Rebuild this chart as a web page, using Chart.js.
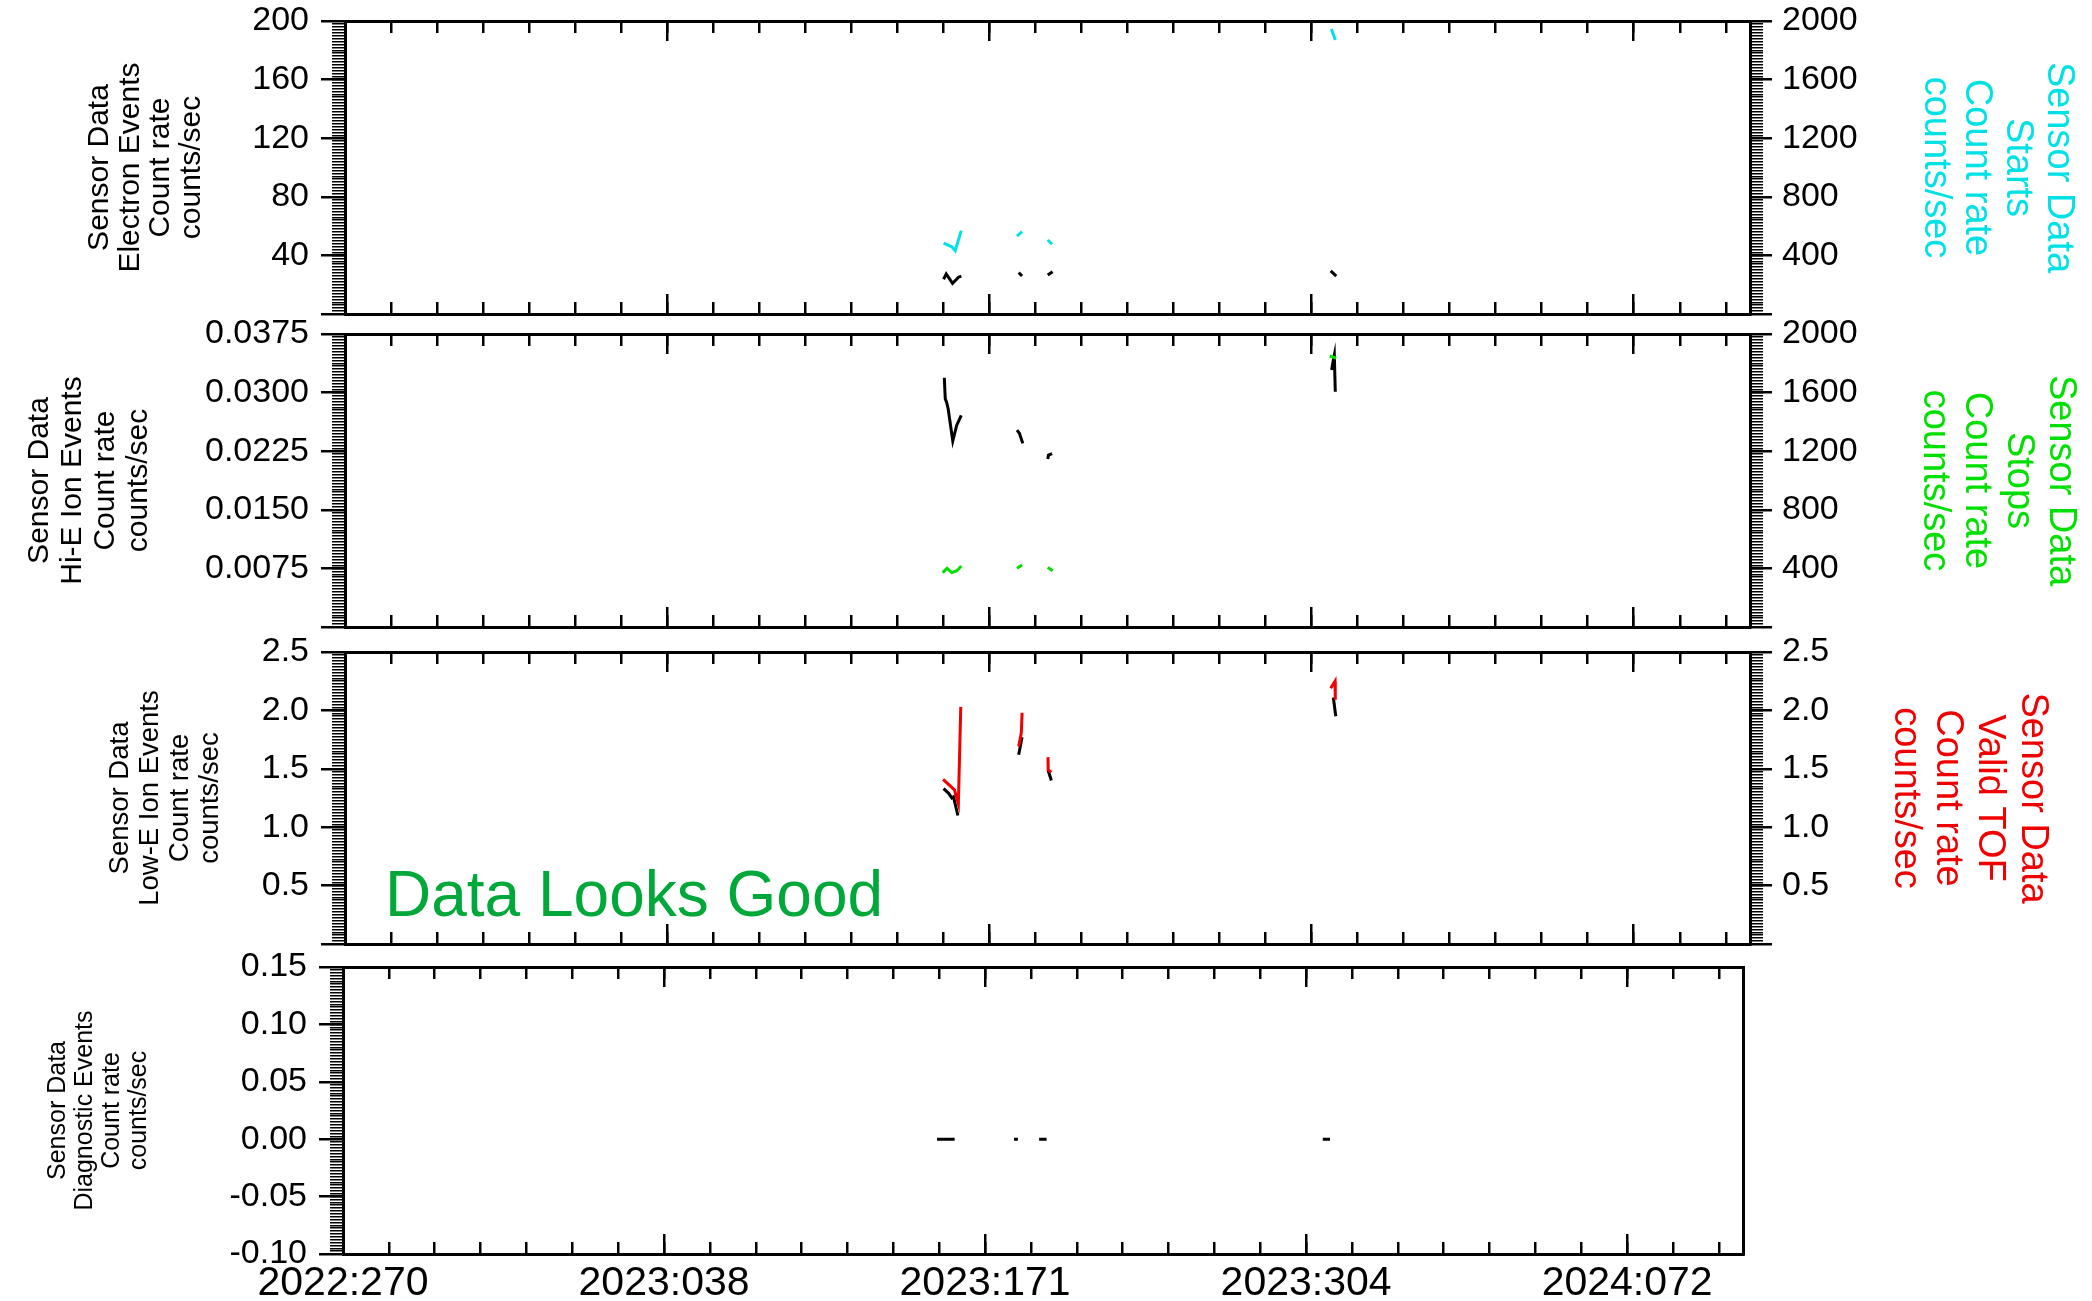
<!DOCTYPE html>
<html>
<head>
<meta charset="utf-8">
<script src="https://cdn.jsdelivr.net/npm/chart.js@4/dist/chart.umd.min.js"></script>
<style>
  html, body { margin: 0; padding: 0; background: #fff; }
  #wrap { position: relative; width: 2092px; height: 1301px; overflow: hidden; background: #fff; }
  #wrap canvas { position: absolute; left: 0; top: 0; }
  #note {
    position: absolute; left: 385px; top: 862px; margin: 0;
    font-family: "Liberation Sans", Arial, Helvetica, sans-serif;
    font-size: 64px; line-height: 64px; color: #00a83a; white-space: nowrap;
  }
</style>
</head>
<body>
<div id="wrap">
  <canvas id="p1" width="2092" height="1301"></canvas>
  <canvas id="p2" width="2092" height="1301"></canvas>
  <canvas id="p3" width="2092" height="1301"></canvas>
  <canvas id="p4" width="2092" height="1301"></canvas>
  <div id="note">Data Looks Good</div>
</div>
<script>
// ---- Time axis: days elapsed since 2022:270 ----
const dayLabels = ['2022:270', '2023:038', '2023:171', '2023:304', '2024:072'];
const dayMajor  = [0, 133, 266, 399, 532];
const dayMinorStep = 19;
const dayMax = 580;

const GAP = null;

// Electron events, counts/sec (panel 1, left axis)
const electronDay  = [247.1, 248.2, 250.8, 253.3, 254.4, GAP, 278.1, 279.5, GAP, 290.1, 292.1, GAP, 406.9, 409.2];
const electronRate = [23.7, 27.3, 20.9, 25.1, 25.9, GAP, 28.2, 25.9, GAP, 26.6, 28.9, GAP, 29.4, 25.9];

// Starts, counts/sec (panel 1, right axis)
const startsDay  = [247.1, 250.5, 251.9, 254.4, GAP, 277.4, 279.5, GAP, 290.1, 291.9, GAP, 407.2, 408.8];
const startsRate = [483, 459, 432, 569, GAP, 532, 562, GAP, 505, 476, GAP, 1945, 1870];

// Hi-E ion events, counts/sec (panel 2, left axis)
const hiEDay  = [247.4, 247.8, 248.4, 249.0, 250.9, 252.5, 254.4, GAP, 277.4, 278.4, 279.8, GAP, 290.1, 290.4, 291.9, GAP, 407.3, 408.0, 408.4, 408.8];
const hiERate = [0.0319, 0.0292, 0.0287, 0.0279, 0.0238, 0.0258, 0.0271, GAP, 0.0252, 0.0248, 0.0235, GAP, 0.0215, 0.0220, 0.0222, GAP, 0.0329, 0.0342, 0.0348, 0.0301];

// Stops, counts/sec (panel 2, right axis)
const stopsDay  = [246.7, 248.5, 250.5, 252.6, 254.4, GAP, 277.4, 279.5, GAP, 290.1, 292.1, GAP, 406.5, 409.2];
const stopsRate = [371, 401, 371, 384, 416, GAP, 401, 423, GAP, 407, 384, GAP, 1850, 1835];

// Low-E ion events, counts/sec (panel 3, left axis)
const lowEDay  = [247.1, 249.2, 250.5, 251.2, 253.0, GAP, 278.1, 279.5, GAP, 290.2, 291.6, GAP, 408.0, 409.0];
const lowERate = [1.33, 1.29, 1.25, 1.26, 1.10, GAP, 1.62, 1.77, GAP, 1.49, 1.40, GAP, 2.11, 1.95];

// Valid TOF, counts/sec (panel 3, right axis)
const tofDay  = [246.9, 251.6, 253.2, 254.2, GAP, 278.1, 279.2, 279.5, GAP, 290.2, 290.3, 291.6, GAP, 406.9, 408.7, 408.8];
const tofRate = [1.41, 1.32, 1.20, 2.03, GAP, 1.69, 1.81, 1.98, GAP, 1.60, 1.49, 1.47, GAP, 2.19, 2.25, 2.09];

// Diagnostic events, counts/sec (panel 4)
const diagDay  = [246.1, 253.4, GAP, 278.0, 279.6, GAP, 288.4, 291.5, GAP, 405.9, 408.9];
const diagRate = [0, 0, GAP, 0, 0, GAP, 0, 0, GAP, 0, 0];

// ---- Value-axis ticks and labels ----
const electronTicks  = [0, 40, 80, 120, 160, 200];
const electronLabels = ['', '40', '80', '120', '160', '200'];
const countTicks  = [0, 400, 800, 1200, 1600, 2000];
const countLabels = ['', '400', '800', '1200', '1600', '2000'];
const hiETicks  = [0, 0.0075, 0.015, 0.0225, 0.03, 0.0375];
const hiELabels = ['', '0.0075', '0.0150', '0.0225', '0.0300', '0.0375'];
const lowETicks  = [0, 0.5, 1.0, 1.5, 2.0, 2.5];
const lowELabels = ['', '0.5', '1.0', '1.5', '2.0', '2.5'];
const diagTicks  = [-0.10, -0.05, 0, 0.05, 0.10, 0.15];
const diagLabels = ['-0.10', '-0.05', '0.00', '0.05', '0.10', '0.15'];

const FONT = '"Liberation Sans", Arial, Helvetica, sans-serif';
const W = 2092, H = 1301;
const CYAN = '#00e1e6', GREEN = '#00e000', RED = '#f00000';

function points(days, vals) {
  return days.map(function (d, i) { return { x: d, y: vals[i] }; });
}
function steps(min, max, step) {
  const n = Math.round((max - min) / step);
  const out = [];
  for (let i = 0; i <= n; i++) out.push(+(min + i * step).toFixed(8));
  return out;
}
function tickSetter(values) {
  return function (scale) { scale.ticks = values.map(function (v) { return { value: v }; }); };
}
// fixed axis box sizes so the chart area lands exactly on the panel frame
function fixSize(size) {
  return function (scale) {
    if (scale.isHorizontal()) scale.height = size; else scale.width = size;
    scale.paddingLeft = 0; scale.paddingRight = 0; scale.paddingTop = 0; scale.paddingBottom = 0;
  };
}

function timeAxis(position, values, tickLength, labels, border, size) {
  return {
    type: 'linear', position: position, min: 0, max: dayMax, weight: labels ? 1 : 0,
    afterBuildTicks: tickSetter(values), afterFit: fixSize(size || 0),
    grid: { drawOnChartArea: false, drawTicks: true, tickLength: tickLength, tickWidth: 2.5, tickColor: '#000', color: '#000', lineWidth: 2.5 },
    border: { display: border, color: '#000', width: 3 },
    ticks: labels
      ? { display: true, autoSkip: false, maxRotation: 0, minRotation: 0, color: '#000', padding: 25,
          font: { family: FONT, size: 41, lineHeight: 1.2 }, callback: function (v, i) { return labels[i]; } }
      : { display: false, autoSkip: false }
  };
}

function valueAxis(o) {
  const ax = {
    type: 'linear', position: o.position, min: o.min, max: o.max, weight: o.size ? 1 : 0,
    afterBuildTicks: tickSetter(o.values), afterFit: fixSize(o.size || 0),
    grid: { drawOnChartArea: false, drawTicks: o.tickLength > 0, tickLength: o.tickLength || 0, tickWidth: o.tickWidth || 2.5,
            tickColor: '#000', color: '#000', lineWidth: o.tickWidth || 2.5 },
    border: { display: !!o.border, color: '#000', width: 3 },
    ticks: o.labels
      ? { display: true, autoSkip: false, color: '#000', padding: o.labelPad,
          font: { family: FONT, size: 34, lineHeight: 1.2 }, callback: function (v, i) { return o.labels[i]; } }
      : { display: false, autoSkip: false }
  };
  if (o.title) {
    ax.title = { display: true, text: o.title, color: o.titleColor || '#000',
                 font: { family: FONT, size: o.titleSize, lineHeight: o.titleLine / o.titleSize },
                 padding: { top: o.titlePad, bottom: 0 } };
  }
  return ax;
}

function line(data, color, axis, order) {
  return { data: data, yAxisID: axis, borderColor: color, backgroundColor: color, borderWidth: 3,
           pointRadius: 0, tension: 0, spanGaps: false, fill: false, order: order };
}

function makePanel(id, padding, datasets, scales) {
  new Chart(document.getElementById(id), {
    type: 'line',
    data: { datasets: datasets },
    options: {
      responsive: false, animation: false, events: [],
      layout: { padding: padding },
      plugins: { legend: { display: false }, tooltip: { enabled: false }, title: { display: false } },
      scales: scales
    }
  });
}

// left title spans from x = 0: first line centre = lh/2 + pad
function leftPad(x1, lh) { return x1 - lh / 2; }
// right title spans to x = W: first line centre = W - lh/2 - pad
function rightPad(x1, lh) { return W - lh / 2 - x1; }

const minorDays = steps(0, 570, dayMinorStep);

function timeScales(labelHeight) {
  return {
    x:   timeAxis('bottom', dayMajor, -20, labelHeight ? dayLabels : null, true, labelHeight),
    xm:  timeAxis('bottom', minorDays, -12, null, false),
    xt:  timeAxis('top', dayMajor, -20, null, true),
    xtm: timeAxis('top', minorDays, -12, null, false)
  };
}

// ---- Panel 1: electron events / starts  (frame x 345..1750, y 21..314) ----
makePanel('p1', { left: 0, right: 0, top: 21, bottom: H - 314 }, [
  line(points(electronDay, electronRate), '#000', 'y', 1),
  line(points(startsDay, startsRate), CYAN, 'y2', 0)
], Object.assign(timeScales(0), {
  y:   valueAxis({ position: 'left', size: 345, min: 0, max: 200, values: electronTicks, labels: electronLabels, tickLength: 24, labelPad: 12, border: true,
                   title: ['Sensor Data', 'Electron Events', 'Count rate', 'counts/sec'], titleSize: 30, titleLine: 30.6,
                   titlePad: leftPad(100, 30.6) }),
  ym:  valueAxis({ position: 'left', min: 0, max: 200, values: steps(0, 200, 2), tickLength: 13, tickWidth: 1.5 }),
  y2:  valueAxis({ position: 'right', size: W - 1750, min: 0, max: 2000, values: countTicks, labels: countLabels, tickLength: 22, labelPad: 10, border: true,
                   title: ['Sensor Data', 'Starts', 'Count rate', 'counts/sec'], titleColor: CYAN, titleSize: 38, titleLine: 41,
                   titlePad: rightPad(2058, 41) }),
  y2m: valueAxis({ position: 'right', min: 0, max: 2000, values: steps(0, 2000, 20), tickLength: 13, tickWidth: 1.5 })
}));

// ---- Panel 2: hi-E ion events / stops  (frame y 334..627) ----
makePanel('p2', { left: 0, right: 0, top: 334, bottom: H - 627 }, [
  line(points(hiEDay, hiERate), '#000', 'y', 1),
  line(points(stopsDay, stopsRate), GREEN, 'y2', 0)
], Object.assign(timeScales(0), {
  y:   valueAxis({ position: 'left', size: 345, min: 0, max: 0.0375, values: hiETicks, labels: hiELabels, tickLength: 24, labelPad: 12, border: true,
                   title: ['Sensor Data', 'Hi-E Ion Events', 'Count rate', 'counts/sec'], titleSize: 30, titleLine: 33,
                   titlePad: leftPad(40, 33) }),
  ym:  valueAxis({ position: 'left', min: 0, max: 0.0375, values: steps(0, 0.0375, 0.000375), tickLength: 13, tickWidth: 1.5 }),
  y2:  valueAxis({ position: 'right', size: W - 1750, min: 0, max: 2000, values: countTicks, labels: countLabels, tickLength: 22, labelPad: 10, border: true,
                   title: ['Sensor Data', 'Stops', 'Count rate', 'counts/sec'], titleColor: GREEN, titleSize: 38, titleLine: 42,
                   titlePad: rightPad(2060, 42) }),
  y2m: valueAxis({ position: 'right', min: 0, max: 2000, values: steps(0, 2000, 20), tickLength: 13, tickWidth: 1.5 })
}));

// ---- Panel 3: low-E ion events / valid TOF  (frame y 652..944) ----
makePanel('p3', { left: 0, right: 0, top: 652, bottom: H - 944 }, [
  line(points(lowEDay, lowERate), '#000', 'y', 1),
  line(points(tofDay, tofRate), RED, 'y2', 0)
], Object.assign(timeScales(0), {
  y:   valueAxis({ position: 'left', size: 345, min: 0, max: 2.5, values: lowETicks, labels: lowELabels, tickLength: 24, labelPad: 12, border: true,
                   title: ['Sensor Data', 'Low-E Ion Events', 'Count rate', 'counts/sec'], titleSize: 27.5, titleLine: 30,
                   titlePad: leftPad(120, 30) }),
  ym:  valueAxis({ position: 'left', min: 0, max: 2.5, values: steps(0, 2.5, 0.025), tickLength: 13, tickWidth: 1.5 }),
  y2:  valueAxis({ position: 'right', size: W - 1750, min: 0, max: 2.5, values: lowETicks, labels: lowELabels, tickLength: 22, labelPad: 10, border: true,
                   title: ['Sensor Data', 'Valid TOF', 'Count rate', 'counts/sec'], titleColor: RED, titleSize: 38, titleLine: 42.3,
                   titlePad: rightPad(2032, 42.3) }),
  y2m: valueAxis({ position: 'right', min: 0, max: 2.5, values: steps(0, 2.5, 0.025), tickLength: 13, tickWidth: 1.5 })
}));

// ---- Panel 4: diagnostic events  (frame x 343..1743, y 967..1254) ----
makePanel('p4', { left: 0, right: W - 1743, top: 967, bottom: 0 }, [
  line(points(diagDay, diagRate), '#000', 'y', 0)
], Object.assign(timeScales(H - 1254), {
  y:   valueAxis({ position: 'left', size: 343, min: -0.10, max: 0.15, values: diagTicks, labels: diagLabels, tickLength: 24, labelPad: 12, border: true,
                   title: ['Sensor Data', 'Diagnostic Events', 'Count rate', 'counts/sec'], titleSize: 25, titleLine: 27,
                   titlePad: leftPad(58, 27) }),
  ym:  valueAxis({ position: 'left', min: -0.10, max: 0.15, values: steps(-0.10, 0.15, 0.0025), tickLength: 13, tickWidth: 1.5 }),
  y2:  valueAxis({ position: 'right', min: -0.10, max: 0.15, values: diagTicks, tickLength: 0, border: true })
}));
</script>
</body>
</html>
